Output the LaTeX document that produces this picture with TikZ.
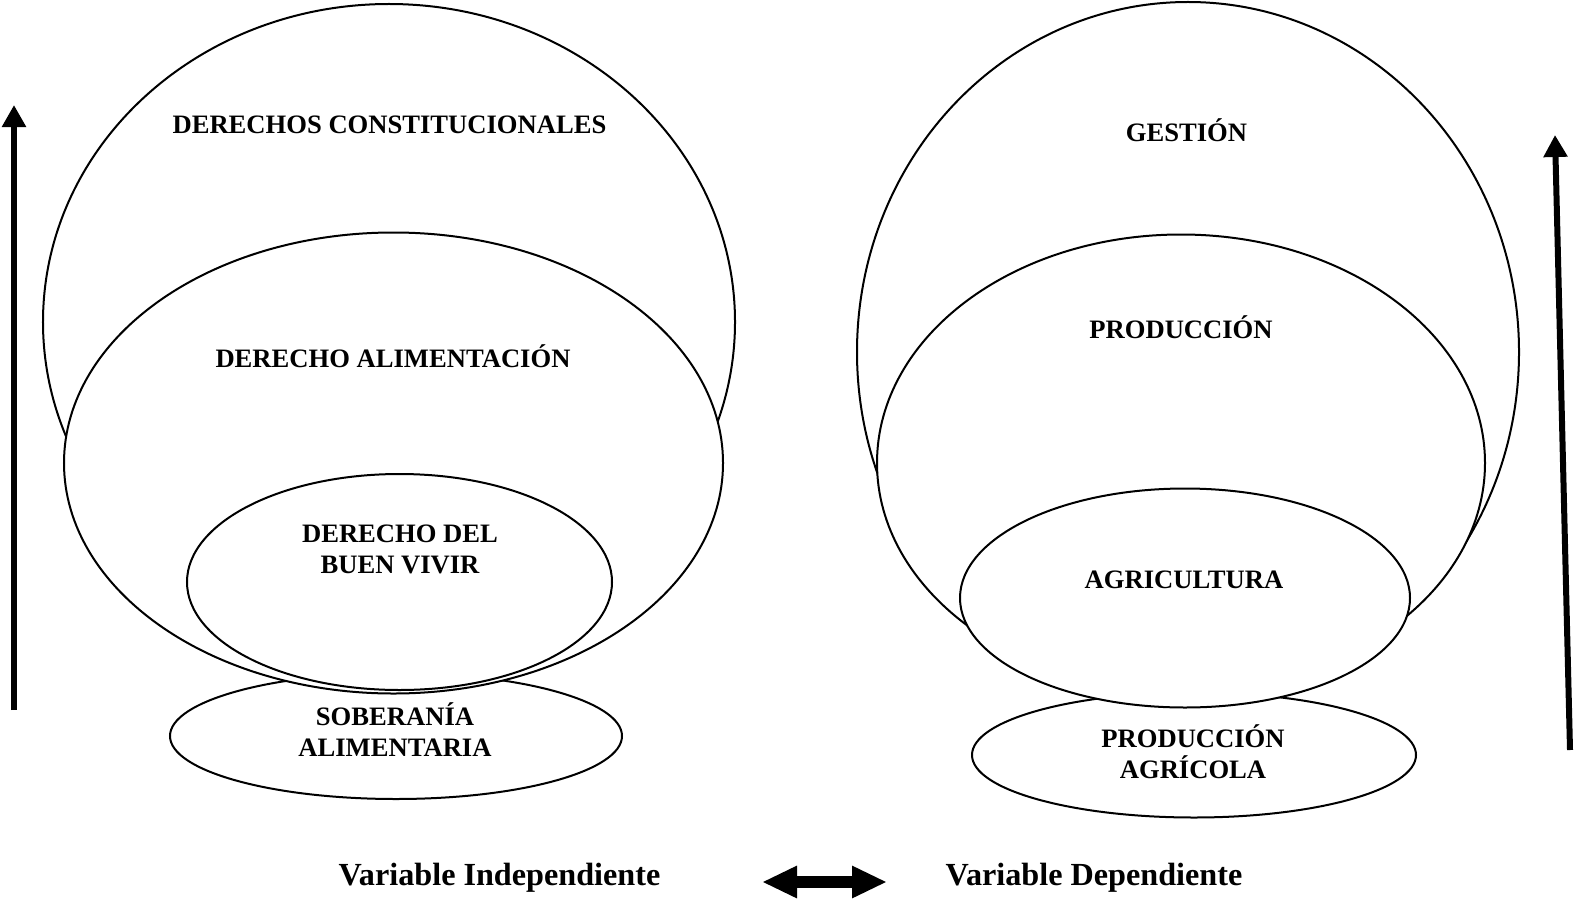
\documentclass[tikz,border=0pt]{standalone}
\usepackage{fontspec}
\setmainfont{Liberation Serif}
\usetikzlibrary{shapes.geometric,arrows.meta}

\tikzset{
  elipse/.style={ellipse, draw, fill=white, line width=2bp, inner sep=0pt, outer sep=0pt},
  etiqueta/.style={font=\fontsize{26.6bp}{30.5bp}\selectfont\bfseries, align=center, anchor=base, inner sep=0pt},
  textovar/.style={font=\fontsize{32.2bp}{36bp}\selectfont\bfseries, anchor=base, inner sep=0pt},
  flecha/.style={line width=6bp, -{Triangle[length=22bp,width=23bp]}}
}

\begin{document}
\begin{tikzpicture}[x=1bp,y=-1bp]
    \useasboundingbox (0,0) rectangle (1576,898);

    %lado izquierdo: las elipses se dibujan de atras hacia adelante
    \node[elipse, minimum width=452bp, minimum height=126bp] (soberania) at (396,736) {};
    \node[elipse, minimum width=692bp, minimum height=636bp] (constitucionales) at (389,322) {};
    \node[elipse, minimum width=659bp, minimum height=461bp] (alimentacion) at (393.5,463) {};
    \node[elipse, minimum width=425bp, minimum height=216bp] (buenvivir) at (399.5,582) {};

    \node[etiqueta] (tconst) at (389.5,133) {DERECHOS CONSTITUCIONALES};
    \node[etiqueta] (talim) at (393,367) {DERECHO ALIMENTACIÓN};
    \node[etiqueta] (tbuen) at (400,573) {DERECHO DEL\\BUEN VIVIR};
    \node[etiqueta] (tsob) at (395,756) {SOBERANÍA\\ALIMENTARIA};

    %lado derecho
    \node[elipse, minimum width=444bp, minimum height=125bp] (prodagricola) at (1194,755) {};
    \node[elipse, minimum width=662bp, minimum height=700bp] (gestion) at (1188,352) {};
    \node[elipse, minimum width=608bp, minimum height=457bp] (produccion) at (1181,463) {};
    \node[elipse, minimum width=450bp, minimum height=219bp] (agricultura) at (1185,598) {};

    \node[etiqueta] (tgest) at (1186.5,141) {GESTIÓN};
    \node[etiqueta] (tprod) at (1181,338) {PRODUCCIÓN};
    \node[etiqueta] (tagri) at (1184,588) {AGRICULTURA};
    \node[etiqueta] (tpagr) at (1193,778) {PRODUCCIÓN\\AGRÍCOLA};

    %flechas verticales
    \coordinate (izqabajo) at (14,710);
    \coordinate (izqarriba) at (14,105);
    \draw[flecha] (izqabajo) -- (izqarriba);
    \coordinate (derabajo) at (1570,750);
    \coordinate (derarriba) at (1555,135);
    \draw[flecha] (derabajo) -- (derarriba);

    %variables y flecha doble
    \node[textovar] (vindep) at (499.5,885) {Variable Independiente};
    \node[textovar] (vdep) at (1094,885) {Variable Dependiente};
    \coordinate (dobleizq) at (762,882);
    \coordinate (dobleder) at (887,882);
    \draw[line width=12bp, {Triangle[length=35bp,width=30bp]}-{Triangle[length=35bp,width=30bp]}] (dobleizq) -- (dobleder);
\end{tikzpicture}
\end{document}
